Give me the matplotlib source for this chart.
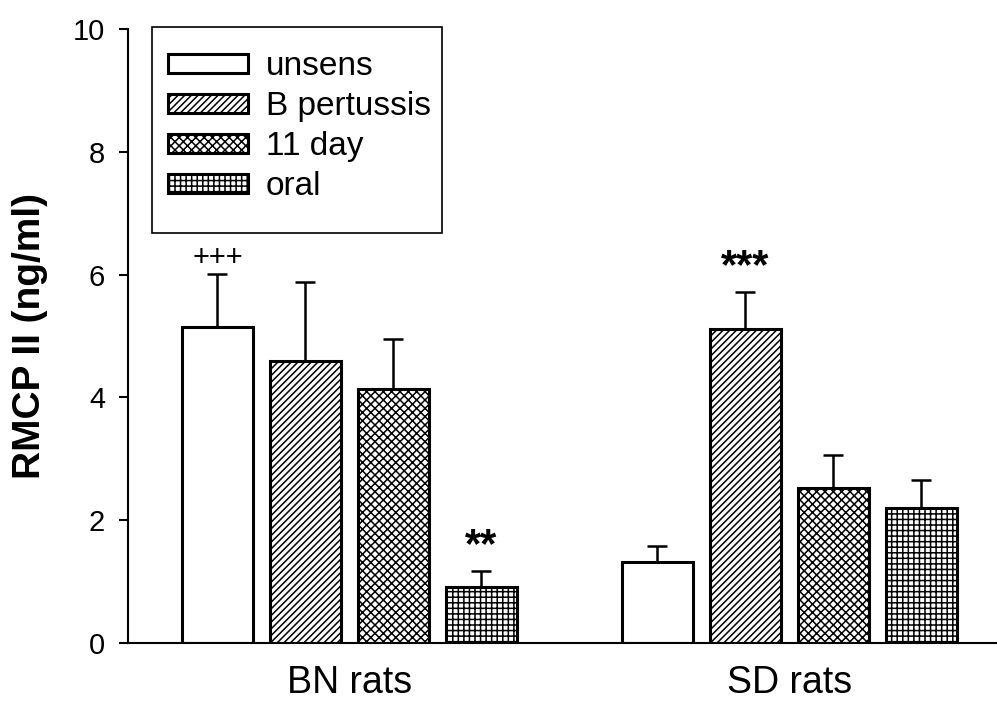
import numpy as np
import matplotlib
matplotlib.use("Agg")
import matplotlib.pyplot as plt
from matplotlib.patches import Rectangle

plt.rcParams['font.family'] = ['Liberation Sans', 'DejaVu Sans']
plt.rcParams['hatch.linewidth'] = 1.1

# mean RMCP II and upper SEM for each treatment, BN rats then SD rats
groups = ['BN rats', 'SD rats']
treatments = ['unsens', 'B pertussis', '11 day', 'oral']
hatches = ['', '/////', 'xxxx', '+++']
bn_mean = [5.15, 4.59, 4.14, 0.91]
bn_err = [0.86, 1.29, 0.81, 0.26]
sd_mean = [1.32, 5.11, 2.52, 2.20]
sd_err = [0.26, 0.61, 0.54, 0.45]

# significance marks: (group, treatment index, text, bold)
marks = [(0, 0, '+++', False), (0, 3, '**', True), (1, 1, '***', True)]

fig = plt.figure(figsize=(9.97, 7.02), dpi=100)
ax = fig.add_axes([0.1284, 0.084, 0.8716, 0.8746])

width = 0.8
means = [bn_mean, sd_mean]
errs = [bn_err, sd_err]
for g in range(2):
    x = np.arange(4) + g * 5
    for i in range(4):
        ax.bar(x[i], means[g][i], width, color='white', edgecolor='black',
               linewidth=2.2, hatch=hatches[i], zorder=2,
               label=treatments[i] if g == 0 else None)
        ax.errorbar(x[i], means[g][i], yerr=[[0], [errs[g][i]]], fmt='none',
                    ecolor='black', elinewidth=1.8, capsize=7, capthick=1.8, zorder=1)

for g, i, txt, bold in marks:
    top = means[g][i] + errs[g][i]
    if bold:
        ax.text(g * 5 + i, top + 0.08, txt, ha='center', va='bottom',
                fontsize=30, fontweight='bold')
    else:
        ax.text(g * 5 + i, top + 0.04, txt, ha='center', va='bottom', fontsize=21)

ax.set_xlim(-1.017, 8.86)
ax.set_ylim(0, 10)
ax.set_yticks([0, 2, 4, 6, 8, 10])
ax.set_xticks([1.5, 6.5])
ax.set_xticklabels(groups, fontsize=27)
ax.tick_params(axis='x', length=0, pad=16)
ax.tick_params(axis='y', direction='out', length=6.5, width=1.5, labelsize=21, pad=10)
for s in ['top', 'right']:
    ax.spines[s].set_visible(False)
for s in ['left', 'bottom']:
    ax.spines[s].set_linewidth(1.5)
ax.set_ylabel('RMCP II (ng/ml)', fontsize=28, fontweight='bold', labelpad=18)

# legend box drawn on its own so the padding can be set freely
ax.add_patch(Rectangle((0.0276, 0.6678), 0.3337, 0.3355, transform=ax.transAxes,
                       facecolor='white', edgecolor='black', linewidth=1.2,
                       clip_on=False, zorder=4))
leg = ax.legend(loc='upper left', bbox_to_anchor=(0.046, 0.9635), borderaxespad=0,
                fontsize=24, handlelength=2.4, handleheight=0.48, handletextpad=0.54,
                labelspacing=0.27, borderpad=0, frameon=False)
leg.set_zorder(5)

fig.savefig('out.png', dpi=100)
